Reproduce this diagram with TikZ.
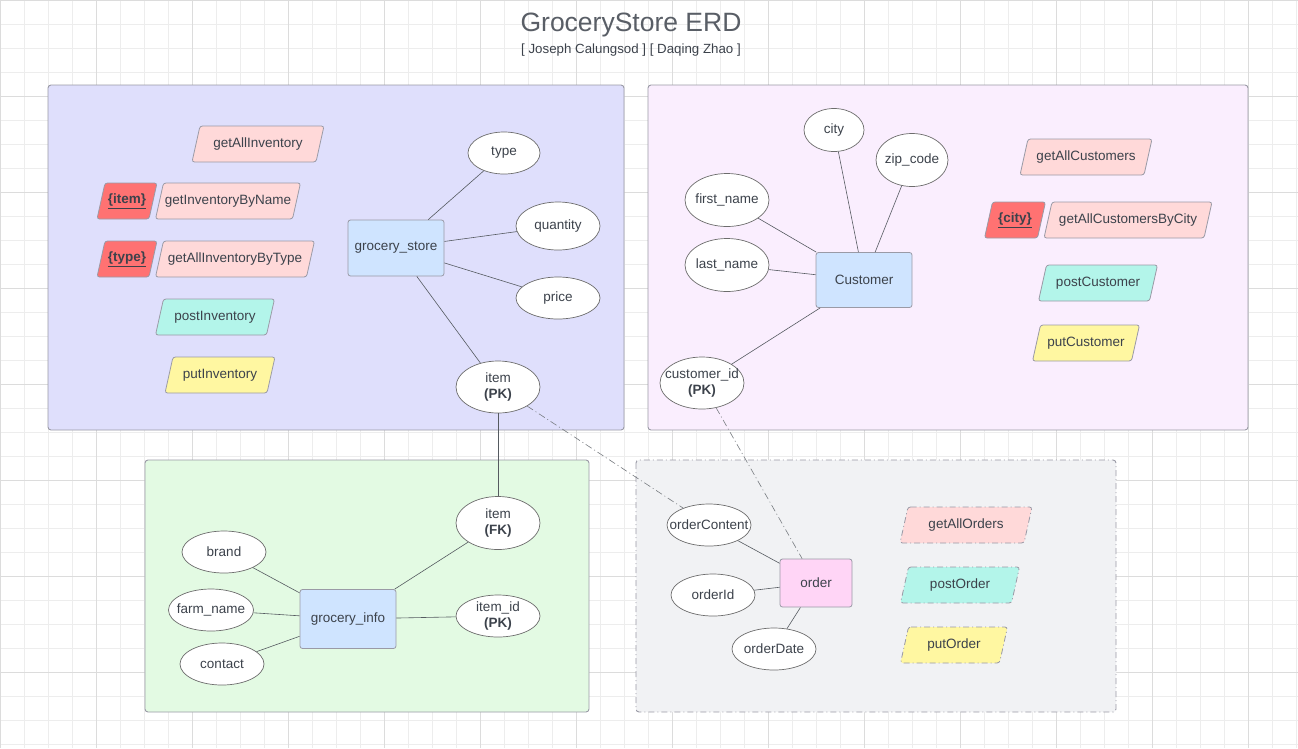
\documentclass[tikz,border=0pt]{standalone}
\usepackage{fontspec}
\setmainfont{Liberation Sans}
\usetikzlibrary{shapes.geometric}
\definecolor{txt}{HTML}{3C424B}
\definecolor{gridminor}{HTML}{EDEDED}
\definecolor{gridmajor}{HTML}{DCDCDC}
\definecolor{bordc}{HTML}{9A9AA6}
\definecolor{linec}{HTML}{555A60}
\definecolor{pblue}{HTML}{DFDFFC}
\definecolor{ppink}{HTML}{FAEEFE}
\definecolor{pgreen}{HTML}{E3FAE3}
\definecolor{pgray}{HTML}{F1F2F4}
\definecolor{entc}{HTML}{CFE4FF}
\definecolor{ordc}{HTML}{FFD5F6}
\definecolor{lred}{HTML}{FFD9D9}
\definecolor{dred}{HTML}{FF7272}
\definecolor{teal}{HTML}{B3F5EA}
\definecolor{yel}{HTML}{FFF7A1}
\tikzset{
  panel/.style={draw=bordc, line width=0.9pt, rounded corners=3pt},
  dashdot/.style={dash pattern=on 6pt off 3pt on 1pt off 3pt},
  ent/.style={draw=bordc, fill=entc, rounded corners=2.5pt, line width=0.8pt, text=txt, font=\fontsize{13.5}{16}\selectfont, inner sep=0pt},
  attr/.style={ellipse, draw=gray!85!black, fill=white, line width=0.7pt, text=txt, font=\fontsize{13.5}{16}\selectfont, inner xsep=-14pt, inner ysep=-5pt, align=center},
  ptxt/.style={text=txt, font=\fontsize{13.5}{16}\selectfont, inner sep=0pt},
  conn/.style={draw=linec, line width=0.6pt},
  dconn/.style={draw=linec!80!white, line width=0.6pt, dash pattern=on 7pt off 3pt on 1pt off 3pt},
}
% parallelogram: name, cx, cy, width, fill, text, extra style
\newcommand\pgram[7]{%
  \path[draw=bordc, fill=#5, line width=0.8pt, rounded corners=2.5pt, #7]
    ({#2-#4/2+8},{#3-18}) -- ({#2+#4/2},{#3-18}) -- ({#2+#4/2-8},{#3+18}) -- ({#2-#4/2},{#3+18}) -- cycle;
  \node[ptxt] (#1) at (#2,#3) {#6};}
\begin{document}
\begin{tikzpicture}[x=1pt,y=-1pt]
\useasboundingbox (0,0) rectangle (1298,748);
\fill[white] (0,0) rectangle (1298,748);
% grid
\foreach \i in {0,24,...,1296} \draw[gridminor, line width=0.8pt] (\i,0) -- (\i,748);
\foreach \j in {0,24,...,744} \draw[gridminor, line width=0.8pt] (0,\j) -- (1298,\j);
\foreach \i in {0,96,...,1296} \draw[gridmajor, line width=0.9pt] (\i,0) -- (\i,748);
\foreach \j in {0,96,...,744} \draw[gridmajor, line width=0.9pt] (0,\j) -- (1298,\j);

% title
\node[text=txt!85!white, font=\fontsize{26.5}{30}\selectfont, inner sep=0pt] (title) at (631,25) {GroceryStore ERD};
\node[text=txt, font=\fontsize{13.3}{16}\selectfont, inner sep=0pt] (subtitle) at (631,50) {[ Joseph Calungsod ] [ Daqing Zhao ]};

% panels
\path[panel, fill=pblue] (48,85) rectangle (624,430);
\path[panel, fill=ppink] (648,85) rectangle (1248,430);
\path[panel, fill=pgreen] (145,460) rectangle (589,712);
\path[panel, fill=pgray, dashdot] (636,460) rectangle (1116,712);

% ---- grocery store panel
\pgram{gai}{258}{144}{132}{lred}{getAllInventory}{}
\pgram{pitem}{127}{201}{60}{dred}{\textbf{\underline{\{item\}}}}{}
\pgram{gibn}{228}{201}{145}{lred}{getInventoryByName}{}
\pgram{ptype}{127}{259}{60}{dred}{\textbf{\underline{\{type\}}}}{}
\pgram{gaibt}{235}{259}{159}{lred}{getAllInventoryByType}{}
\pgram{pinv}{215}{317}{119}{teal}{postInventory}{}
\pgram{puinv}{220}{375}{110}{yel}{putInventory}{}

\node[ent, minimum width=96pt, minimum height=56pt] (gs) at (396,248) {grocery\_store};
\node[attr, minimum width=72pt, minimum height=42pt] (type) at (504,153) {type};
\node[attr, minimum width=84pt, minimum height=48pt] (qty) at (558,226) {quantity};
\node[attr, minimum width=84pt, minimum height=42pt] (price) at (558,298) {price};
\node[attr, minimum width=84pt, minimum height=52pt] (itempk) at (498,387) {item\\\textbf{(PK)}};

% ---- customer panel
\node[ent, minimum width=96pt, minimum height=55pt] (cust) at (864,280) {Customer};
\node[attr, minimum width=60pt, minimum height=43pt] (city) at (834,130) {city};
\node[attr, minimum width=72pt, minimum height=53pt] (zip) at (912,160) {zip\_code};
\node[attr, minimum width=84pt, minimum height=53pt] (fname) at (727,200) {first\_name};
\node[attr, minimum width=84pt, minimum height=53pt] (lname) at (727,265) {last\_name};
\node[attr, minimum width=84pt, minimum height=52pt] (custid) at (702,383) {customer\_id\\\textbf{(PK)}};

\pgram{gac}{1086}{157}{132}{lred}{getAllCustomers}{}
\pgram{pcity}{1015}{220}{61}{dred}{\textbf{\underline{\{city\}}}}{}
\pgram{gacbc}{1128}{220}{168}{lred}{getAllCustomersByCity}{}
\pgram{pcust}{1098}{283}{119}{teal}{postCustomer}{}
\pgram{pucust}{1086}{343}{107}{yel}{putCustomer}{}

% ---- grocery info panel
\node[ent, minimum width=96pt, minimum height=59pt] (gi) at (348,619) {grocery\_info};
\node[attr, minimum width=84pt, minimum height=53pt] (itemfk) at (498,523) {item\\\textbf{(FK)}};
\node[attr, minimum width=84pt, minimum height=42pt] (itemid) at (498,616) {item\_id\\\textbf{(PK)}};
\node[attr, minimum width=84pt, minimum height=42pt] (brand) at (224,552) {brand};
\node[attr, minimum width=85pt, minimum height=42pt] (farm) at (211,610) {farm\_name};
\node[attr, minimum width=84pt, minimum height=42pt] (contact) at (222,664) {contact};

% ---- order panel
\node[ent, fill=ordc, minimum width=72pt, minimum height=48pt] (order) at (816,583) {order};
\node[attr, minimum width=84pt, minimum height=42pt] (ocont) at (709,525) {orderContent};
\node[attr, minimum width=84pt, minimum height=42pt] (oid) at (713,595) {orderId};
\node[attr, minimum width=84pt, minimum height=42pt] (odate) at (774,649) {orderDate};

\pgram{gao}{966}{525}{132}{lred}{getAllOrders}{dashdot}
\pgram{po}{960}{585}{119}{teal}{postOrder}{dashdot}
\pgram{puo}{954}{645}{107}{yel}{putOrder}{dashdot}

% ---- connectors
\draw[conn] (gs) -- (type);
\draw[conn] (gs) -- (qty);
\draw[conn] (gs) -- (price);
\draw[conn] (gs) -- (itempk);
\draw[conn] (cust) -- (city);
\draw[conn] (cust) -- (zip);
\draw[conn] (cust) -- (fname);
\draw[conn] (cust) -- (lname);
\draw[conn] (cust) -- (custid);
\draw[conn] (itempk) -- (itemfk);
\draw[conn] (gi) -- (itemfk);
\draw[conn] (gi) -- (itemid);
\draw[conn] (gi) -- (brand);
\draw[conn] (gi) -- (farm);
\draw[conn] (gi) -- (contact);
\draw[conn] (order) -- (ocont);
\draw[conn] (order) -- (oid);
\draw[conn] (order) -- (odate);
\draw[dconn] (itempk) -- (ocont);
\draw[dconn] (custid) -- (order);
\end{tikzpicture}
\end{document}
